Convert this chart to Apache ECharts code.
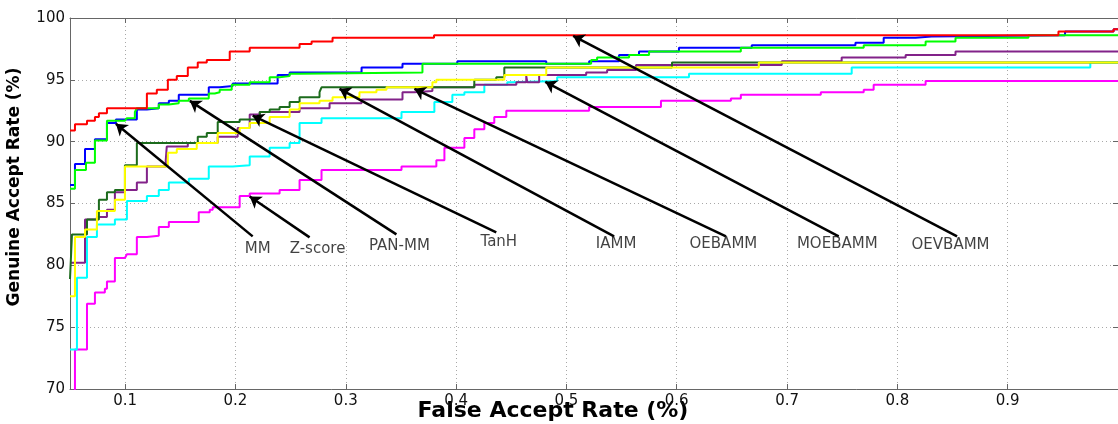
<!DOCTYPE html>
<html><head><meta charset="utf-8">
<script src="https://cdn.jsdelivr.net/npm/echarts@6/dist/echarts.min.js"></script>
<style>html,body{margin:0;padding:0;background:#fff}#c{width:1118px;height:424px}</style>
</head><body><div id="c"></div>
<script>
// ---- data ----
const xTitle = 'False Accept Rate (%)';
const yTitle = 'Genuine Accept Rate (%)';
const xRange = [0.05, 1.0];
const yRange = [70, 100];

// step curves: [x at which step occurs, y after step]
const oevbammData = [[0.05,90.9],[0.0545,91.4],[0.0654,91.7],[0.0726,92.0],[0.0762,92.3],[0.0835,92.7],[0.1197,93.9],[0.1287,94.2],[0.1387,95.0],[0.1468,95.3],[0.1568,96.0],[0.1658,96.4],[0.174,96.6],[0.1948,97.3],[0.2129,97.6],[0.2581,97.9],[0.269,98.1],[0.288,98.4],[0.380,98.6],[0.946,98.9],[0.996,99.1],[1.0,99.1]];
const mmData = [[0.05,86.5],[0.0545,88.2],[0.0636,89.4],[0.0726,90.2],[0.0835,91.5],[0.0916,91.8],[0.1106,92.6],[0.1197,92.7],[0.1305,93.1],[0.1396,93.3],[0.1486,93.8],[0.1758,94.4],[0.1857,94.5],[0.1975,94.7],[0.2382,95.4],[0.2491,95.6],[0.3143,96.0],[0.3514,96.3],[0.4011,96.5],[0.4817,96.3],[0.5206,96.5],[0.5477,97.0],[0.5658,97.3],[0.602,97.6],[0.668,97.8],[0.762,98.0],[0.7876,98.4],[0.8165,98.5],[0.831,98.6],[0.952,98.9],[0.996,99.1],[1.0,99.1]];
const panmmData = [[0.05,86.2],[0.0545,87.7],[0.0645,88.3],[0.0726,90.1],[0.0835,91.7],[0.0998,91.8],[0.1016,91.9],[0.1088,92.4],[0.1106,92.7],[0.1305,93.0],[0.1396,93.1],[0.1486,93.3],[0.1577,93.5],[0.1758,93.9],[0.1812,94.0],[0.1857,94.2],[0.1966,94.6],[0.2129,94.8],[0.231,95.2],[0.24,95.3],[0.2491,95.5],[0.2581,95.6],[0.3695,96.3],[0.5224,96.6],[0.5278,96.8],[0.5568,97.0],[0.5749,97.3],[0.6581,97.6],[0.7695,97.8],[0.8256,98.1],[0.8527,98.4],[0.9188,98.6],[1.0,98.6]];
const iammData = [[0.05,78.9],[0.0518,82.5],[0.0654,83.7],[0.0762,85.3],[0.0835,85.9],[0.0907,86.1],[0.0998,88.1],[0.1106,89.9],[0.1658,90.4],[0.174,90.7],[0.1839,91.6],[0.2038,91.8],[0.222,92.4],[0.231,92.6],[0.24,92.8],[0.2491,93.2],[0.2581,93.6],[0.2762,94.0],[0.278,94.4],[0.4165,95.0],[0.4364,95.2],[0.4437,96.0],[0.5957,96.4],[1.0,96.4]];
const oebammData = [[0.05,77.5],[0.0545,82.3],[0.0636,82.9],[0.0744,84.4],[0.0907,85.3],[0.0998,88.0],[0.1387,89.1],[0.1468,89.4],[0.1649,89.9],[0.1839,90.7],[0.2038,91.1],[0.2129,91.5],[0.231,92.0],[0.2491,92.6],[0.2581,93.1],[0.2762,93.3],[0.288,93.6],[0.3124,94.0],[0.3278,94.2],[0.3369,94.4],[0.3785,94.8],[0.3821,95.0],[0.4437,95.4],[0.4817,96.0],[0.6744,96.4],[1.0,96.4]];
const tanhData = [[0.05,80.2],[0.0636,83.7],[0.0744,83.9],[0.0835,84.5],[0.0907,85.9],[0.0998,86.1],[0.1106,86.7],[0.1197,88.0],[0.1368,88.5],[0.1377,89.6],[0.1568,89.9],[0.1839,90.4],[0.202,91.1],[0.2129,92.2],[0.222,92.4],[0.2581,92.7],[0.2853,93.1],[0.3143,93.4],[0.3514,94.0],[0.3622,94.1],[0.3785,94.4],[0.4165,94.6],[0.4546,94.8],[0.4636,95.3],[0.4646,94.8],[0.4753,95.4],[0.5179,95.6],[0.5369,95.8],[0.5631,96.2],[0.6952,96.5],[0.7495,96.8],[0.8075,97.0],[0.8527,97.3],[1.0,97.3]];
const moebammData = [[0.05,73.2],[0.0563,79.0],[0.0654,82.3],[0.0744,83.3],[0.0907,83.7],[0.1016,85.2],[0.1197,85.6],[0.1305,86.1],[0.1396,86.7],[0.1577,87.0],[0.1758,88.0],[0.1975,88.1],[0.2129,88.8],[0.231,89.5],[0.2491,89.9],[0.2581,91.5],[0.278,91.9],[0.3505,92.4],[0.3803,93.2],[0.3966,93.8],[0.4075,94.0],[0.4256,94.6],[0.4464,94.8],[0.45,94.9],[0.4916,95.2],[0.6111,95.5],[0.7586,96.0],[0.9749,96.4],[1.0,96.4]];
const zscoreData = [[0.0545,69.0],[0.0545,73.2],[0.0654,76.9],[0.0726,77.8],[0.0816,78.1],[0.0835,78.7],[0.0907,80.6],[0.0998,80.7],[0.1016,80.9],[0.1106,82.3],[0.1197,82.4],[0.1305,83.1],[0.1396,83.5],[0.1667,84.3],[0.1767,84.5],[0.1794,84.7],[0.2038,85.6],[0.2129,85.8],[0.24,86.1],[0.2581,86.9],[0.278,87.7],[0.3505,88.0],[0.3821,88.5],[0.3894,89.5],[0.4075,90.3],[0.4165,91.0],[0.4256,91.5],[0.4346,92.0],[0.4455,92.5],[0.5206,92.8],[0.5857,93.3],[0.6491,93.5],[0.6581,93.8],[0.7306,94.0],[0.7695,94.2],[0.7785,94.6],[0.8256,94.9],[1.0,94.9]];

// annotation arrows (tail near label -> head on curve), label anchor points
const labelNames = ['MM','Z-score','PAN-MM','TanH','IAMM','OEBAMM','MOEBAMM','OEVBAMM'];
const arrowTails = [[0.2156,82.34],[0.2672,82.26],[0.3459,82.5],[0.4364,82.66],[0.5432,82.34],[0.6446,82.34],[0.7468,82.34],[0.8541,82.34]];
const arrowHeads = [[0.0916,91.45],[0.2129,85.56],[0.1586,93.3],[0.2156,92.1],[0.2943,94.27],[0.3622,94.27],[0.4808,94.84],[0.5061,98.55]];
const labelPoints = [[0.2201,81.29],[0.2744,81.29],[0.3486,81.53],[0.4387,81.85],[0.545,81.69],[0.6423,81.69],[0.7455,81.69],[0.8482,81.61]];

// ---- chart ----
const curves = [
  {name:'Z-score', data: zscoreData, color:'#ff00ff'},
  {name:'MOEBAMM', data: moebammData, color:'#00ffff'},
  {name:'TanH', data: tanhData, color:'#822289'},
  {name:'IAMM', data: iammData, color:'#1c6b1c'},
  {name:'OEBAMM', data: oebammData, color:'#ffff00'},
  {name:'MM', data: mmData, color:'#0000ff'},
  {name:'PAN-MM', data: panmmData, color:'#00ff00'},
  {name:'OEVBAMM', data: oevbammData, color:'#ff0000'}
];

const axisColor = '#666';
const gridLine = {show:true, lineStyle:{color:'#a8a8a8', type:[1,3], width:1}};
const tickFont = {fontFamily:'DejaVu Sans', fontSize:15, color:'#111'};

const series = curves.map(c => ({
  type:'line', name:c.name, data:c.data, step:'end', showSymbol:false, symbol:'none',
  clip:true, silent:true, lineStyle:{color:c.color, width:2}, itemStyle:{color:c.color}
}));
series.push({
  type:'lines', coordinateSystem:'cartesian2d', silent:true, z:5,
  symbol:['none','arrow'], symbolSize:[0,11],
  lineStyle:{color:'#000', width:2.5, opacity:1},
  data: arrowTails.map((t,i) => ({coords:[t, arrowHeads[i]]}))
});
series.push({
  type:'scatter', silent:true, z:6, symbolSize:1, itemStyle:{color:'rgba(0,0,0,0)'},
  label:{show:true, position:'inside', formatter:p => p.name, fontFamily:'DejaVu Sans', fontSize:15, color:'#111'},
  data: labelPoints.map((p,i) => ({name:labelNames[i], value:p}))
});

const chart = echarts.init(document.getElementById('c'), null, {renderer:'canvas'});
chart.setOption({
  animation:false,
  backgroundColor:'#fff',
  grid:{left:70, top:18, width:1050, bottom:35, containLabel:false},
  xAxis:[
    {type:'value', min:xRange[0], max:xRange[1], minInterval:0.1, maxInterval:0.1, position:'bottom',
     axisLine:{show:true, lineStyle:{color:axisColor}},
     axisTick:{show:true, inside:true, length:5, lineStyle:{color:axisColor}},
     axisLabel:Object.assign({showMinLabel:false, showMaxLabel:false, margin:5}, tickFont),
     splitLine:gridLine},
    {type:'value', min:xRange[0], max:xRange[1], minInterval:0.1, maxInterval:0.1, position:'top',
     axisLine:{show:true, lineStyle:{color:axisColor}},
     axisTick:{show:true, inside:true, length:5, lineStyle:{color:axisColor}},
     axisLabel:{show:false}, splitLine:{show:false}}
  ],
  yAxis:[
    {type:'value', min:yRange[0], max:yRange[1], interval:5, position:'left',
     axisLine:{show:true, lineStyle:{color:axisColor}},
     axisTick:{show:true, inside:true, length:5, lineStyle:{color:axisColor}},
     axisLabel:Object.assign({margin:5}, tickFont),
     splitLine:gridLine},
    {type:'value', min:yRange[0], max:yRange[1], interval:5, position:'right',
     axisLine:{show:true, lineStyle:{color:axisColor}},
     axisTick:{show:true, inside:true, length:5, lineStyle:{color:axisColor}},
     axisLabel:{show:false}, splitLine:{show:false}}
  ],
  graphic:[
    {type:'text', x:553, y:411, silent:true, style:{text:xTitle, font:'bold 22px "DejaVu Sans"', fill:'#000', align:'center', verticalAlign:'middle'}},
    {type:'text', x:15, y:187, rotation:Math.PI/2, silent:true, style:{text:yTitle, font:'bold 17px "DejaVu Sans"', fill:'#000', align:'center', verticalAlign:'middle'}}
  ],
  series: series
});
</script>
</body></html>
